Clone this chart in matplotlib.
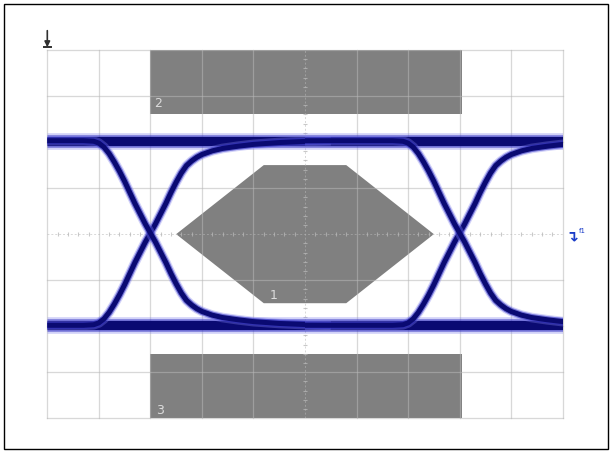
#!/usr/bin/env python3
"""
Eye diagram with mask test regions (1 = eye hexagon, 2 = top, 3 = bottom)
"""

import matplotlib
matplotlib.use("Agg")
import matplotlib.pyplot as plt
import matplotlib.patches as patches

# signal levels / crossings (divisions)
high_level = 6.03
low_level = 2.02
crossings = [2.0, 8.0]

# shape of one rising edge: offset from crossing (div) -> fraction of swing
edge_dx = [-1.3, -1.1, -1.0, -0.9, -0.8, -0.7, -0.6, -0.5, -0.4, -0.3, -0.2, -0.1,
           0.0, 0.1, 0.2, 0.3, 0.4, 0.5, 0.6, 0.7, 0.8, 0.9, 1.0, 1.2, 1.4, 1.7,
           2.0, 2.5, 3.0, 3.5]
edge_frac = [0.0, 0.003, 0.013, 0.035, 0.07, 0.115, 0.165, 0.22, 0.28, 0.34, 0.395, 0.45,
             0.5, 0.55, 0.605, 0.66, 0.72, 0.775, 0.825, 0.865, 0.89, 0.91, 0.925, 0.945,
             0.958, 0.97, 0.98, 0.99, 0.996, 1.0]

# mask regions
mask1_x = [2.5, 4.2, 5.8, 7.5, 5.8, 4.2]
mask1_y = [4.0, 5.5, 5.5, 4.0, 2.5, 2.5]
mask2_x = [2.0, 8.05]
mask2_y = [6.6, 8.0]
mask3_x = [2.0, 8.05]
mask3_y = [0.0, 1.4]

mask_labels = ["1", "2", "3"]
label_pos = [(4.4, 2.66), (2.15, 6.83), (2.19, 0.16)]


def draw_trace(ax, x, y, widths):
    for lw, col, a in widths:
        ax.plot(x, y, color=col, lw=lw, alpha=a, solid_capstyle="butt",
                solid_joinstyle="round", zorder=3)


def make_eye(filename="out.png"):
    fig = plt.figure(figsize=(6.13, 4.54), dpi=100)
    ax = fig.add_axes([47.3 / 613, (454 - 418.3) / 454, 515.4 / 613, 368.3 / 454])
    ax.set_xlim(0, 10)
    ax.set_ylim(0, 8)
    ax.axis("off")

    # outer frame
    fig.patches.append(patches.Rectangle((4 / 613, 5 / 454), 604 / 613, 445 / 454,
                                         transform=fig.transFigure, fill=False,
                                         ec="black", lw=1.0))

    # masks
    mask_col = "#808080"
    ax.add_patch(patches.Polygon(list(zip(mask1_x, mask1_y)), closed=True,
                                 fc=mask_col, ec="none", zorder=1))
    for mx, my in [(mask2_x, mask2_y), (mask3_x, mask3_y)]:
        ax.add_patch(patches.Rectangle((mx[0], my[0]), mx[1] - mx[0], my[1] - my[0],
                                       fc=mask_col, ec="none", zorder=1))

    # graticule
    gcol = (0.72, 0.72, 0.72)
    for gx in range(11):
        if gx == 5:
            continue
        ax.axvline(gx, color=gcol, alpha=0.55, lw=0.9, clip_on=False, zorder=2)
    for gy in range(9):
        if gy == 4:
            continue
        ax.axhline(gy, color=gcol, alpha=0.55, lw=0.9, clip_on=False, zorder=2)
    ax.axvline(5, color=gcol, alpha=0.55, lw=0.7, ls=(0, (2, 2)), zorder=2)
    ax.axhline(4, color=gcol, alpha=0.55, lw=0.7, ls=(0, (2, 2)), zorder=2)
    minor_x = [i / 5 for i in range(51) if i % 5]
    minor_y = [i / 5 for i in range(41) if i % 5]
    ax.plot(minor_x, [4] * len(minor_x), ls="none", marker="|", ms=3.5, mew=0.8,
            color=gcol, alpha=0.75, zorder=2)
    ax.plot([5] * len(minor_y), minor_y, ls="none", marker="_", ms=3.5, mew=0.8,
            color=gcol, alpha=0.75, zorder=2)

    # eye traces
    level_w = [(12, "#8080ec", 0.35), (9, "#3030c0", 0.6), (6.5, "#0a0a72", 1.0)]
    edge_w = [(7, "#8080ec", 0.35), (5.2, "#3030c0", 0.6), (3.6, "#0a0a72", 1.0)]
    swing = high_level - low_level
    for lvl in [high_level, low_level]:
        draw_trace(ax, [0, 10], [lvl, lvl], level_w)
    for xc in crossings:
        xs = [max(0.0, xc - 3.0)] + [xc + d for d in edge_dx]
        rise = [low_level] + [low_level + swing * f for f in edge_frac]
        fall = [high_level] + [high_level - swing * f for f in edge_frac]
        draw_trace(ax, xs, rise, edge_w)
        draw_trace(ax, xs, fall, edge_w)

    # mask labels
    for lab, (lx, ly) in zip(mask_labels, label_pos):
        ax.text(lx, ly, lab, color="#dcdcdc", fontsize=9, ha="center", va="center",
                zorder=4)

    # trigger marker (top left) and channel marker (right)
    ax.annotate("", xy=(0, 8.06), xytext=(0, 8.42),
                arrowprops=dict(arrowstyle="-|>", color="#303030", lw=1.2,
                                mutation_scale=8, shrinkA=0, shrinkB=0),
                annotation_clip=False)
    ax.plot([-0.07, 0.07], [8.06, 8.06], color="#303030", lw=1.4, clip_on=False)
    ax.text(10.06, 3.96, "\u21b4", color="#1a3cc8", fontsize=11, fontweight="bold",
            ha="left", va="center", clip_on=False)
    ax.text(10.32, 4.06, "f1", color="#1a3cc8", fontsize=5, ha="left",
            va="center", clip_on=False)

    fig.savefig(filename, dpi=100)
    print(f"Saved {filename}")


if __name__ == "__main__":
    make_eye()
